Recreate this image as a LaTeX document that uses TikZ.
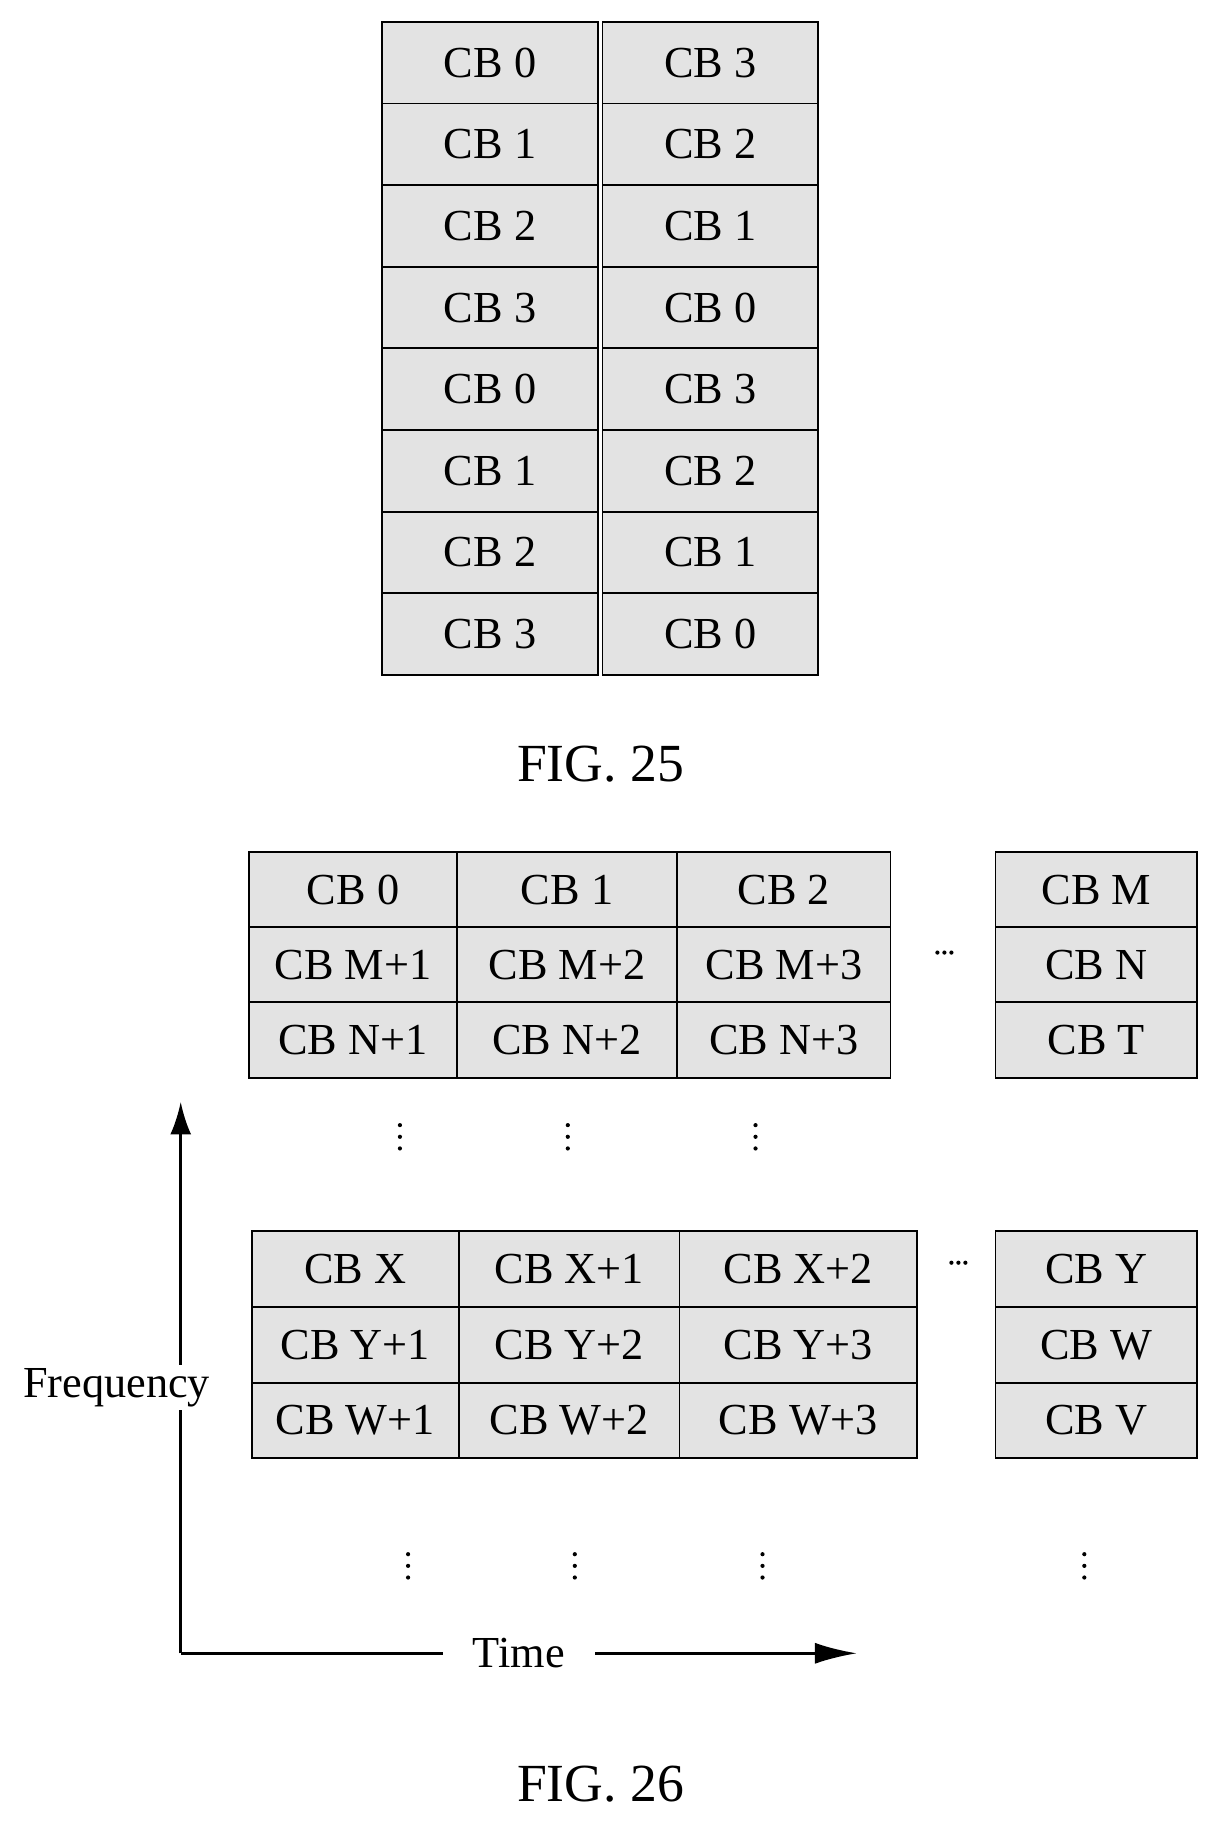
\documentclass[tikz,border=0pt]{standalone}
\usepackage{fontspec}
\setmainfont{Liberation Serif}
\usetikzlibrary{arrows.meta}
\begin{document}
\begin{tikzpicture}[x=1pt,y=-1pt,
 cell/.style={draw=black,line width=1.6pt,fill=gray!22,minimum width=#1,minimum height=65pt,inner sep=0pt,font=\fontsize{38}{38}\selectfont},
 cellA/.style={draw=black,line width=1.6pt,fill=gray!22,minimum width=185pt,minimum height=70pt,inner sep=0pt,font=\fontsize{38}{38}\selectfont},
 figcap/.style={font=\fontsize{46}{46}\selectfont},
 lab/.style={font=\fontsize{38}{38}\selectfont,fill=white,inner sep=3pt},
 dot/.style={fill=black,circle,inner sep=0pt,minimum size=3.6pt}]
\useasboundingbox (0,0) rectangle (1050,1573);
% FIG 25
\foreach \i/\a/\b in {0/0/3,1/1/2,2/2/1,3/3/0,4/0/3,5/1/2,6/2/1,7/3/0}{
 \node[cellA,anchor=north west] (l\i) at (327,18+70*\i) {CB \a};
 \node[cellA,anchor=north west] (r\i) at (516,18+70*\i) {CB \b};
}
\node[figcap] (f25) at (515,655) {FIG. 25};
% FIG 26 top
\foreach \r/\ta/\tb/\tc/\td in {0/CB 0/CB 1/CB 2/CB M,1/CB M+1/CB M+2/CB M+3/CB N,2/CB N+1/CB N+2/CB N+3/CB T}{
 \node[cell=178pt,anchor=north west] (ta\r) at (213,730+64.3*\r) {\ta};
 \node[cell=189pt,anchor=north west] (tb\r) at (391,730+64.3*\r) {\tb};
 \node[cell=183pt,anchor=north west] (tc\r) at (580,730+64.3*\r) {\tc};
 \node[cell=173pt,anchor=north west] (td\r) at (853,730+64.3*\r) {\td};
}
\foreach \r/\ta/\tb/\tc/\td in {0/CB X/CB X+1/CB X+2/CB Y,1/CB Y+1/CB Y+2/CB Y+3/CB W,2/CB W+1/CB W+2/CB W+3/CB V}{
 \node[cell=178pt,anchor=north west] (ba\r) at (215,1055+65*\r) {\ta};
 \node[cell=189pt,anchor=north west] (bb\r) at (393,1055+65*\r) {\tb};
 \node[cell=204pt,anchor=north west] (bc\r) at (582,1055+65*\r) {\tc};
 \node[cell=173pt,anchor=north west] (bd\r) at (853,1055+65*\r) {\td};
}
% horizontal dots
\foreach \x in {-6,0,6}{
 \node[dot] at (810+\x,817) {};
 \node[dot] at (822+\x,1083) {};
}
% vertical dots
\foreach \x in {343,487,648}{\foreach \y in {-10,0,10}{\node[dot] at (\x,975+\y) {};}}
\foreach \x in {350,493,654,930}{\foreach \y in {-10,0,10}{\node[dot] at (\x,1343+\y) {};}}
% axes
\coordinate (o) at (155,1418);
\coordinate (up) at (155,945);
\coordinate (rt) at (735,1418);
\draw[line width=2.4pt,-{Latex[length=28pt,width=18pt]}] (o) -- (up);
\draw[line width=2.4pt,-{Latex[length=36pt,width=18pt]}] (o) -- (rt);
\node[lab,inner xsep=26pt] (time) at (445,1418) {Time};
\node[lab,inner xsep=0pt] (freq) at (100,1190) {Frequency};
\node[figcap] (f26) at (515,1530) {FIG. 26};
\end{tikzpicture}
\end{document}
